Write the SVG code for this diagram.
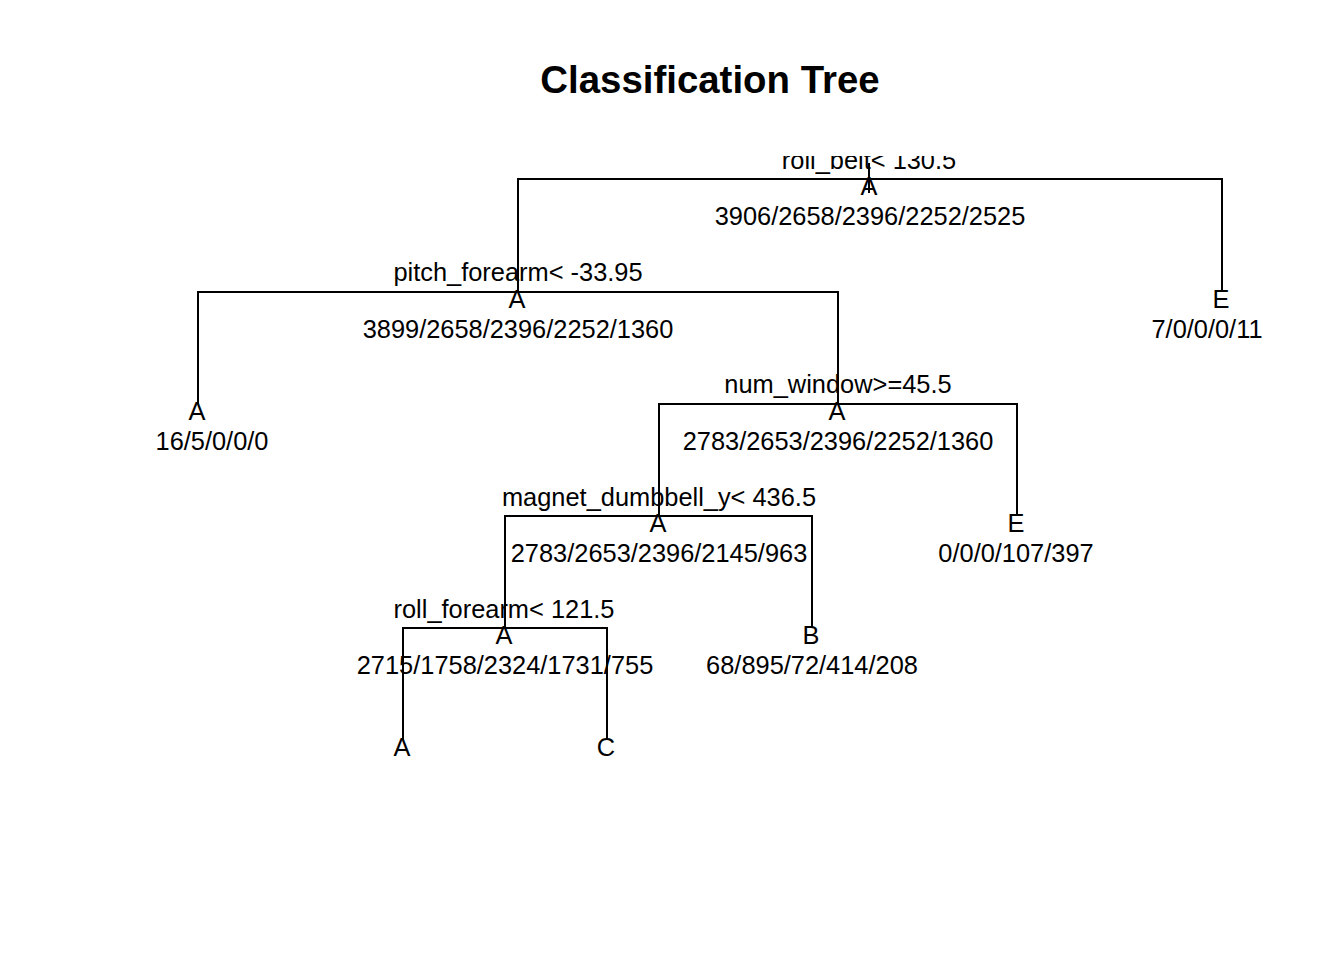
<svg xmlns="http://www.w3.org/2000/svg" width="1344" height="960" viewBox="0 0 1344 960">
<style>
text{font-family:"Liberation Sans",Arial,sans-serif;font-size:25.4px;fill:#000;text-anchor:middle}
.title{font-size:38.4px;font-weight:bold}
.edge{fill:none;stroke:#000;stroke-width:2;stroke-linecap:butt}
</style>
<defs>
<clipPath id="plotclip"><rect x="0" y="156" width="1344" height="610"/></clipPath>
</defs>
<rect width="1344" height="960" fill="#fff"/>
<text class="title" x="710" y="93">Classification Tree</text>
<g id="connectors">
<path class="edge" d="M869,163 V193"/>
<path class="edge" d="M518,292 V179 H1222 V292"/>
<path class="edge" d="M198,404 V292 H838 V404"/>
<path class="edge" d="M659,516 V404 H1017 V516"/>
<path class="edge" d="M505,628 V516 H812 V628"/>
<path class="edge" d="M403,740 V628 H607 V740"/>
</g>
<g id="node-root" clip-path="url(#plotclip)">
<text x="869" y="169">roll_belt&lt; 130.5</text>
<text x="869" y="195">A</text>
<text x="870" y="225">3906/2658/2396/2252/2525</text>
</g>
<g id="node-pitch">
<text x="518" y="281">pitch_forearm&lt; -33.95</text>
<text x="517" y="308">A</text>
<text x="518" y="338">3899/2658/2396/2252/1360</text>
</g>
<g id="leaf-E1">
<text x="1221" y="308">E</text>
<text x="1207" y="338">7/0/0/0/11</text>
</g>
<g id="leaf-A1">
<text x="197" y="420">A</text>
<text x="212" y="450">16/5/0/0/0</text>
</g>
<g id="node-numwindow">
<text x="838" y="393">num_window&gt;=45.5</text>
<text x="837" y="420">A</text>
<text x="838" y="450">2783/2653/2396/2252/1360</text>
</g>
<g id="leaf-E2">
<text x="1016" y="532">E</text>
<text x="1016" y="562">0/0/0/107/397</text>
</g>
<g id="node-magnet">
<text x="659" y="506">magnet_dumbbell_y&lt; 436.5</text>
<text x="658" y="532">A</text>
<text x="659" y="562">2783/2653/2396/2145/963</text>
</g>
<g id="leaf-B">
<text x="811" y="644">B</text>
<text x="812" y="674">68/895/72/414/208</text>
</g>
<g id="node-rollforearm">
<text x="504" y="618">roll_forearm&lt; 121.5</text>
<text x="504" y="644">A</text>
<text x="505" y="674">2715/1758/2324/1731/755</text>
</g>
<g id="leaf-A2">
<text x="402" y="756">A</text>
</g>
<g id="leaf-C">
<text x="606" y="756">C</text>
</g>
</svg>
